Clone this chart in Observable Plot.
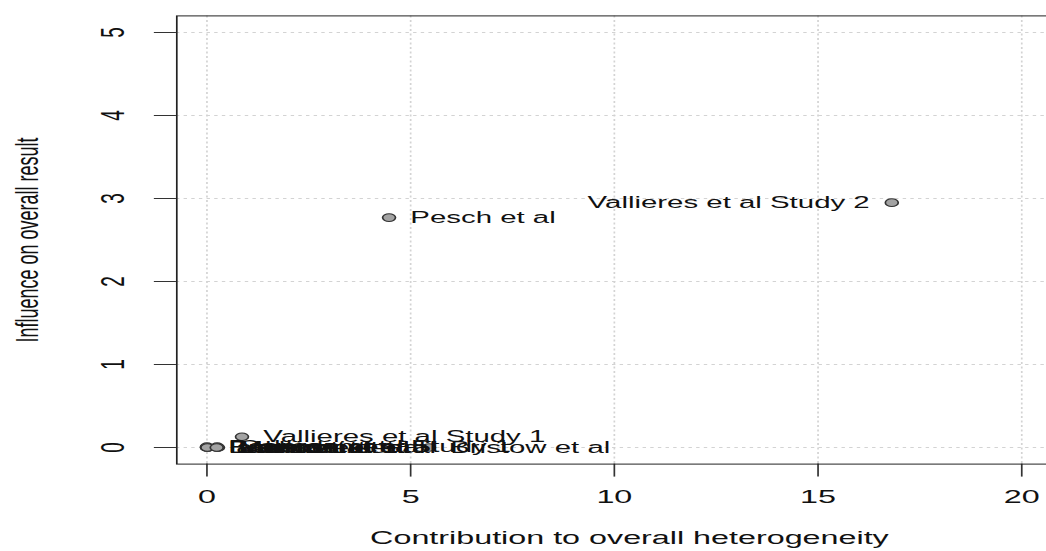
<!DOCTYPE html>
<html><head><meta charset="utf-8">
<script src="https://cdn.jsdelivr.net/npm/d3@7"></script>
<script src="https://cdn.jsdelivr.net/npm/@observablehq/plot@0.6"></script>
<style>
html,body{margin:0;padding:0;overflow:hidden;background:#fff;width:1046px;height:551px}
#chart{transform:scaleX(1.7);transform-origin:0 0;width:636px}
svg{display:block}
</style></head><body><div id="chart"></div>
<script>
const studies = ["Vallieres et al Study 2","Pesch et al","Vallieres et al Study 1","Bristow et al",
  "Iacorossi et al","Pedersen et al","Baker et al","Menichetti et al","Carlson et al Study 1",
  "Lheureux et al","Brennan et al","Mehnert et al"];
const heterogeneity = [16.81,4.47,0.86,5.45,0.0,0.0,0.02,0.25,0.25,0.27,0.01,0.24];
const influence = [2.95,2.77,0.13,0.0,0.0,0.01,0.0,0.0,0.01,0.0,0.0,0.0];
const xTicks = [0,5,10,15,20];
const yTicks = [0,1,2,3,4,5];
const xLabel = "Contribution to overall heterogeneity";
const yLabel = "Influence on overall result";

const data = studies.map((s,i)=>({name:s, x:heterogeneity[i], y:influence[i]}));
const font = "Liberation Sans, Arial, Helvetica, sans-serif";
const grid = {stroke:"#d3d3d3", strokeOpacity:1, strokeWidth:1, strokeDasharray:"2,2.5"};

const chart = Plot.plot({
  width: 636, height: 551,
  marginLeft: 103.5, marginRight: 0, marginTop: 15.4, marginBottom: 87.4,
  style: {fontFamily: font, background: "#fff", overflow: "visible"},
  x: {domain: [-0.74, 21.48]},
  y: {domain: [-0.2, 5.2]},
  marks: [
    Plot.gridX(xTicks, grid),
    Plot.gridY(yTicks, grid),
    Plot.axisX(xTicks, {tickSize: 13, tickPadding: 12, fontSize: 19, tickFormat: d=>String(d), label: null, stroke:"#333", fill:"#111"}),
    Plot.axisY(yTicks, {tickSize: 13, tickFormat: () => "", label: null, stroke:"#333"}),
    Plot.text(yTicks, {y: d=>d, text: d=>String(d), frameAnchor: "left", textAnchor: "middle", dx: -37, rotate: -90, fontSize: 19, fill:"#111"}),
    Plot.frame({stroke: "#222", strokeWidth: 1}),
    Plot.dot(data, {x:"x", y:"y", r: 3.8, fill: "#a3a3a3", stroke: "#333", strokeWidth: 1}),
    Plot.text(data.filter(d=>d.x < 12), {x:"x", y:"y", text:"name", textAnchor:"start", dx: 12.5, fontSize: 17.3, fill:"#111"}),
    Plot.text(data.filter(d=>d.x >= 12), {x:"x", y:"y", text:"name", textAnchor:"end", dx: -13, fontSize: 17.3, fill:"#111"}),
    Plot.text([xLabel], {frameAnchor: "bottom", dy: 80, fontSize: 19, fill:"#111"}),
    Plot.text([yLabel], {frameAnchor: "left", textAnchor: "middle", dx: -87.5, rotate: -90, fontSize: 18, fill:"#111"})
  ]
});
document.getElementById("chart").appendChild(chart);
</script></body></html>
